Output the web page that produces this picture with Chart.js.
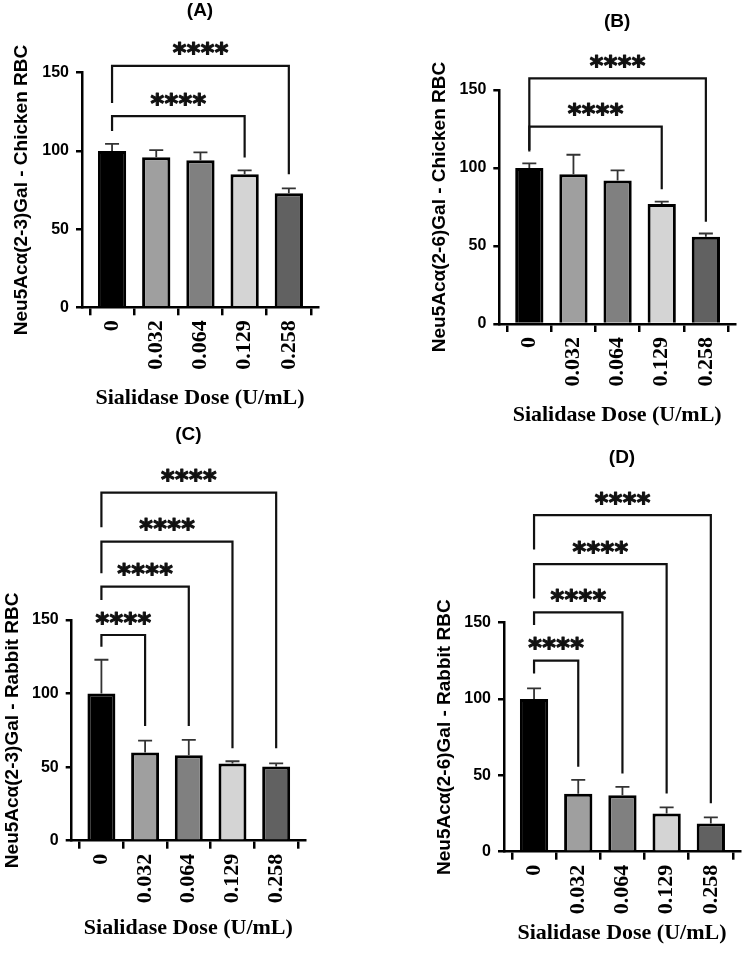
<!DOCTYPE html>
<html>
<head>
<meta charset="utf-8">
<script src="https://cdn.jsdelivr.net/npm/chart.js@4.4.1/dist/chart.umd.min.js"></script>
<style>
  html, body { margin: 0; padding: 0; background: #fff; width: 749px; height: 974px; overflow: hidden; }
  .panel { position: absolute; }
  canvas { display: block; }
</style>
</head>
<body>
<div class="panel" style="left:0px;top:0px;"><canvas id="cA" width="375" height="420"></canvas></div>
<div class="panel" style="left:375px;top:0px;"><canvas id="cB" width="374" height="440"></canvas></div>
<div class="panel" style="left:0px;top:420px;"><canvas id="cC" width="375" height="554"></canvas></div>
<div class="panel" style="left:375px;top:440px;"><canvas id="cD" width="374" height="534"></canvas></div>
<script>
// ---------------- DATA ----------------
const doses = ['0', '0.032', '0.064', '0.129', '0.258'];
const yTickValues = [0, 50, 100, 150];
const xTitle = 'Sialidase Dose (U/mL)';

const meansA = [100, 96, 94, 85, 73];
const sdA    = [4.5, 4.5, 5, 2.5, 3];
const meansB = [100, 96, 92, 77, 56];
const sdB    = [3, 12.5, 6.5, 1.5, 2];
const meansC = [100, 60, 58, 52.5, 50.5];
const sdC    = [23, 8, 10.5, 1.5, 2];
const meansD = [100, 38, 37, 25, 18.5];
const sdD    = [7, 9, 5.5, 4, 4];

// significance brackets: [target index, bracket height, left leg end, right leg end] (data units)
const bracketsA = [[4, 154.3, 130.6, 85.1], [3, 122.2, 112.8, 95.8]];
const bracketsB = [[4, 157.5, 110.5, 65.6], [3, 126.5, 111.5, 86.3]];
const bracketsC = [[1, 139.8, 131.9, 78], [2, 172.7, 163.6, 78], [3, 203.3, 181.7, 62.8], [4, 236.6, 213, 62.8]];
const bracketsD = [[1, 125.1, 116.8, 55.7], [2, 156.8, 148.5, 51.3], [3, 188.4, 165.9, 38.2], [4, 220.5, 198, 31.7]];
const sigLabel = '****';

const barColors = ['#000000', '#9f9f9f', '#808080', '#d4d4d4', '#616161'];

// ---------------- LAYOUT ----------------
const panels = [
  { canvas: 'cA', tag: '(A)', yTitle: 'Neu5Acα(2-3)Gal - Chicken RBC', means: meansA, sd: sdA, brackets: bracketsA,
    box: [0, 0, 375, 420], area: [82, 318, 72.7, 307.3], padLeft: 0, yTitleX: 22, xTitleY: 398, tagY: 11 },
  { canvas: 'cB', tag: '(B)', yTitle: 'Neu5Acα(2-6)Gal - Chicken RBC', means: meansB, sd: sdB, brackets: bracketsB,
    box: [375, 0, 374, 440], area: [499.3, 735, 90, 324], padLeft: 40, yTitleX: 440, xTitleY: 415, tagY: 22 },
  { canvas: 'cC', tag: '(C)', yTitle: 'Neu5Acα(2-3)Gal - Rabbit RBC', means: meansC, sd: sdC, brackets: bracketsC,
    box: [0, 420, 375, 554], area: [71.7, 305, 620, 840.7], padLeft: 0, yTitleX: 13, xTitleY: 928, tagY: 435 },
  { canvas: 'cD', tag: '(D)', yTitle: 'Neu5Acα(2-6)Gal - Rabbit RBC', means: meansD, sd: sdD, brackets: bracketsD,
    box: [375, 440, 374, 534], area: [504, 740, 622.7, 851.7], padLeft: 40, yTitleX: 445, xTitleY: 933, tagY: 458 }
];

const SANS = '"Liberation Sans", Arial, sans-serif';
const SERIF = '"Liberation Serif", "Times New Roman", serif';
const yTitleSize = 19, xTitleSize = 22;

const annotPlugin = {
  id: 'annot',
  afterDatasetsDraw(chart, args, opts) {
    const p = opts.panel;
    const ctx = chart.ctx;
    const xs = chart.scales.x, ys = chart.scales.y;
    ctx.save();
    // error bars (upper)
    ctx.strokeStyle = '#333333';
    ctx.lineWidth = 1.8;
    p.means.forEach((m, i) => {
      const x = xs.getPixelForValue(i);
      const y0 = ys.getPixelForValue(m);
      const y1 = ys.getPixelForValue(m + p.sd[i]);
      ctx.beginPath();
      ctx.moveTo(x, y0); ctx.lineTo(x, y1);
      ctx.moveTo(x - 7, y1); ctx.lineTo(x + 7, y1);
      ctx.stroke();
    });
    ctx.restore();
  },
  afterDraw(chart, args, opts) {
    const p = opts.panel;
    const ctx = chart.ctx;
    const xs = chart.scales.x, ys = chart.scales.y;
    ctx.save();
    // brackets
    ctx.strokeStyle = '#111111';
    ctx.lineWidth = 2.2;
    ctx.lineJoin = 'miter';
    p.brackets.forEach(b => {
      const xl = xs.getPixelForValue(0);
      const xr = xs.getPixelForValue(b[0]);
      const yt = ys.getPixelForValue(b[1]);
      const yl = ys.getPixelForValue(b[2]);
      const yr = ys.getPixelForValue(b[3]);
      ctx.beginPath();
      ctx.moveTo(xl, yl); ctx.lineTo(xl, yt); ctx.lineTo(xr, yt); ctx.lineTo(xr, yr);
      ctx.stroke();
    });
    // significance stars
    ctx.font = 'bold 26px "DejaVu Sans", sans-serif';
    ctx.fillStyle = '#111111';
    ctx.strokeStyle = '#111111';
    ctx.lineWidth = 1.1;
    ctx.lineJoin = 'round';
    ctx.textAlign = 'center';
    ctx.textBaseline = 'alphabetic';
    const mt = ctx.measureText('*');
    const baseOff = (mt.actualBoundingBoxAscent - mt.actualBoundingBoxDescent) / 2;
    p.brackets.forEach(b => {
      const xl = xs.getPixelForValue(0);
      const xr = xs.getPixelForValue(b[0]);
      const yt = ys.getPixelForValue(b[1]);
      const cx = (xl + xr) / 2;
      const cy = yt - 17;
      const step = 14;
      const n = sigLabel.length;
      for (let k = 0; k < n; k++) {
        const tx = cx + (k - (n - 1) / 2) * step;
        ctx.fillText(sigLabel[k], tx, cy + baseOff);
        ctx.strokeText(sigLabel[k], tx, cy + baseOff);
      }
    });
    // panel tag
    ctx.font = 'bold 19px ' + SANS;
    ctx.fillStyle = '#000';
    ctx.textBaseline = 'middle';
    ctx.textAlign = 'center';
    const ca = chart.chartArea;
    ctx.fillText(p.tag, (ca.left + ca.right) / 2, p.tagY - p.box[1]);
    ctx.restore();
  }
};

panels.forEach(p => {
  const [bx, by, bw, bh] = p.box;
  const [al, ar, at, ab] = p.area;
  const yWidth = al - bx - p.padLeft;
  const xHeight = by + bh - ab;
  const yTitlePad = p.yTitleX - bx - p.padLeft - yTitleSize * 1.2 / 2;
  const xTitlePad = by + bh - p.xTitleY - xTitleSize * 1.2 / 2;
  new Chart(document.getElementById(p.canvas), {
    type: 'bar',
    data: {
      datasets: [{
        data: p.means.map((v, i) => ({ x: i, y: v })),
        backgroundColor: barColors,
        borderColor: '#000000',
        borderWidth: 3,
        barPercentage: 0.64,
        categoryPercentage: 1.0
      }]
    },
    options: {
      responsive: false,
      animation: false,
      devicePixelRatio: 1,
      layout: { padding: { left: p.padLeft, top: at - by, right: bx + bw - ar, bottom: 0 } },
      plugins: {
        legend: { display: false },
        tooltip: { enabled: false },
        annot: { panel: p }
      },
      scales: {
        x: {
          type: 'linear',
          min: -0.68,
          max: 4.66,
          offset: false,
          afterBuildTicks: s => { s.ticks = doses.map((d, i) => ({ value: i })); },
          afterFit: s => { s.height = xHeight; },
          grid: { drawOnChartArea: false, drawTicks: true, tickLength: 8, color: '#000', lineWidth: 2.5 },
          border: { display: true, color: '#000', width: 2.5 },
          ticks: {
            autoSkip: false, minRotation: 90, maxRotation: 90, padding: 5, color: '#000',
            font: { family: SERIF, size: 22, weight: 'bold' },
            callback: v => doses[v]
          },
          title: {
            display: true, text: xTitle, color: '#000',
            font: { family: SERIF, size: xTitleSize, weight: 'bold' },
            padding: { top: 0, bottom: xTitlePad }
          }
        },
        y: {
          min: 0,
          max: 150,
          afterBuildTicks: s => { s.ticks = yTickValues.map(v => ({ value: v })); },
          afterFit: s => { s.width = yWidth; },
          grid: { drawOnChartArea: false, drawTicks: true, tickLength: 6, color: '#000', lineWidth: 2.5 },
          border: { display: true, color: '#000', width: 2.5 },
          ticks: { padding: 7, color: '#000', font: { family: SANS, size: 16, weight: 'bold' } },
          title: {
            display: true, text: p.yTitle, color: '#000',
            font: { family: SANS, size: yTitleSize, weight: 'bold' },
            padding: { top: yTitlePad, bottom: 0 }
          }
        }
      }
    },
    plugins: [annotPlugin]
  });
});
</script>
</body>
</html>
